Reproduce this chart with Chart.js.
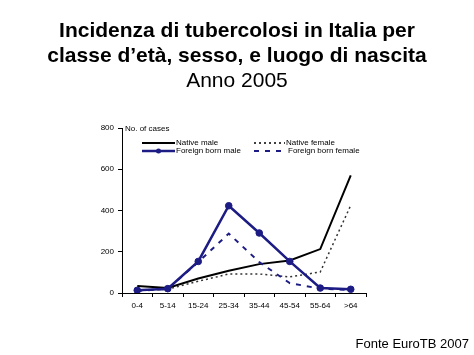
<!DOCTYPE html>
<html>
<head>
<meta charset="utf-8">
<script src="https://cdn.jsdelivr.net/npm/chart.js@4.4.1/dist/chart.umd.min.js"></script>
<style>
  html, body { margin: 0; padding: 0; background: #fff; }
  #wrap { position: relative; width: 474px; height: 355px; overflow: hidden; font-family: "Liberation Sans", Arial, sans-serif; }
  #title { position: absolute; left: 0; top: 17px; width: 474px; text-align: center; font-size: 21px; line-height: 25px; color: #000; }
  #title b { font-weight: bold; }
  #foot { position: absolute; right: 5px; top: 336px; font-size: 13px; color: #000; }
  canvas { position: absolute; left: 0; top: 0; }
</style>
</head>
<body>
<div id="wrap">
  <canvas id="c" width="474" height="355"></canvas>
  <div id="title"><b>Incidenza di tubercolosi in Italia per</b><br><b>classe d’età, sesso, e luogo di nascita</b><br>Anno 2005</div>
  <div id="foot">Fonte EuroTB 2007</div>
</div>
<script>
const categories = ["0-4", "5-14", "15-24", "25-34", "35-44", "45-54", "55-64", ">64"];
const nativeMale = [34, 24, 70, 108, 140, 158, 213, 570];
const nativeFemale = [12, 18, 57, 92, 92, 78, 102, 425];
const foreignMale = [13, 21, 153, 423, 291, 153, 24, 18];
const foreignFemale = [10, 20, 150, 288, 150, 48, 21, 15];
const yTicks = [0, 200, 400, 600, 800];
const seriesNames = ["Native male", "Native female", "Foreign born male", "Foreign born female"];
const yAxisLabel = "No. of cases";

const NAVY = "#1c1c84";
const FONT = "'Liberation Sans', Arial, sans-serif";

const legendPlugin = {
  id: "inLegend",
  afterDraw(chart) {
    const ctx = chart.ctx;
    const a = chart.chartArea;
    ctx.save();
    ctx.font = "8px " + FONT;
    ctx.fillStyle = "#000";
    ctx.textBaseline = "middle";
    ctx.textAlign = "left";
    ctx.fillText(yAxisLabel, a.left + 3, a.top + 1);
    const items = [
      {x: a.left + 20, y: a.top + 15, w: 33, color: "#000", lw: 2, dash: [], dot: false, name: seriesNames[0], tx: a.left + 54},
      {x: a.left + 132, y: a.top + 15, w: 31, color: "#000", lw: 1.5, dash: [2, 3], dot: false, name: seriesNames[1], tx: a.left + 164},
      {x: a.left + 20, y: a.top + 23, w: 33, color: NAVY, lw: 2.5, dash: [], dot: true, name: seriesNames[2], tx: a.left + 54},
      {x: a.left + 132, y: a.top + 23, w: 27, color: NAVY, lw: 2, dash: [5, 6], dot: false, name: seriesNames[3], tx: a.left + 166}
    ];
    items.forEach(it => {
      ctx.beginPath();
      ctx.strokeStyle = it.color;
      ctx.lineWidth = it.lw;
      ctx.setLineDash(it.dash);
      ctx.moveTo(it.x, it.y);
      ctx.lineTo(it.x + it.w, it.y);
      ctx.stroke();
      ctx.setLineDash([]);
      if (it.dot) {
        ctx.beginPath();
        ctx.fillStyle = it.color;
        ctx.arc(it.x + it.w / 2, it.y, 2.5, 0, Math.PI * 2);
        ctx.fill();
      }
      ctx.fillStyle = "#000";
      ctx.fillText(it.name, it.tx, it.y);
    });
    ctx.restore();
  }
};

new Chart(document.getElementById("c"), {
  type: "line",
  data: {
    labels: categories,
    datasets: [
      {label: seriesNames[0], data: nativeMale, borderColor: "#000", borderWidth: 2, pointRadius: 0, tension: 0, order: 3},
      {label: seriesNames[1], data: nativeFemale, borderColor: "#333", borderWidth: 1.5, borderDash: [2, 3], pointRadius: 0, tension: 0, order: 4},
      {label: seriesNames[2], data: foreignMale, borderColor: NAVY, backgroundColor: NAVY, borderWidth: 2.5, pointRadius: 3.3, pointBorderWidth: 1, pointHoverRadius: 3.3, pointBackgroundColor: NAVY, pointBorderColor: NAVY, tension: 0, order: 1},
      {label: seriesNames[3], data: foreignFemale, borderColor: NAVY, borderWidth: 2, borderDash: [5, 6], pointRadius: 0, tension: 0, order: 2}
    ]
  },
  options: {
    responsive: false,
    animation: false,
    events: [],
    layout: { padding: { left: 92, right: 108, top: 128, bottom: 42 } },
    plugins: { legend: { display: false }, title: { display: false }, tooltip: { enabled: false } },
    scales: {
      x: {
        offset: true,
        grid: { display: true, drawOnChartArea: false, drawTicks: true, tickLength: 4, color: "#000", offset: true },
        border: { display: true, color: "#000", width: 1 },
        ticks: { color: "#000", font: { family: FONT, size: 8 }, padding: 4, maxRotation: 0, autoSkip: false },
        afterFit(s) { s.height = 20; }
      },
      y: {
        min: 0, max: 800,
        afterBuildTicks(s) { s.ticks = yTicks.map(v => ({value: v})); },
        grid: { display: true, drawOnChartArea: false, drawTicks: true, tickLength: 4, color: "#000" },
        border: { display: true, color: "#000", width: 1 },
        ticks: { color: "#000", font: { family: FONT, size: 8 }, padding: 4 },
        afterFit(s) { s.width = 30; }
      }
    }
  },
  plugins: [legendPlugin]
});
</script>
</body>
</html>
